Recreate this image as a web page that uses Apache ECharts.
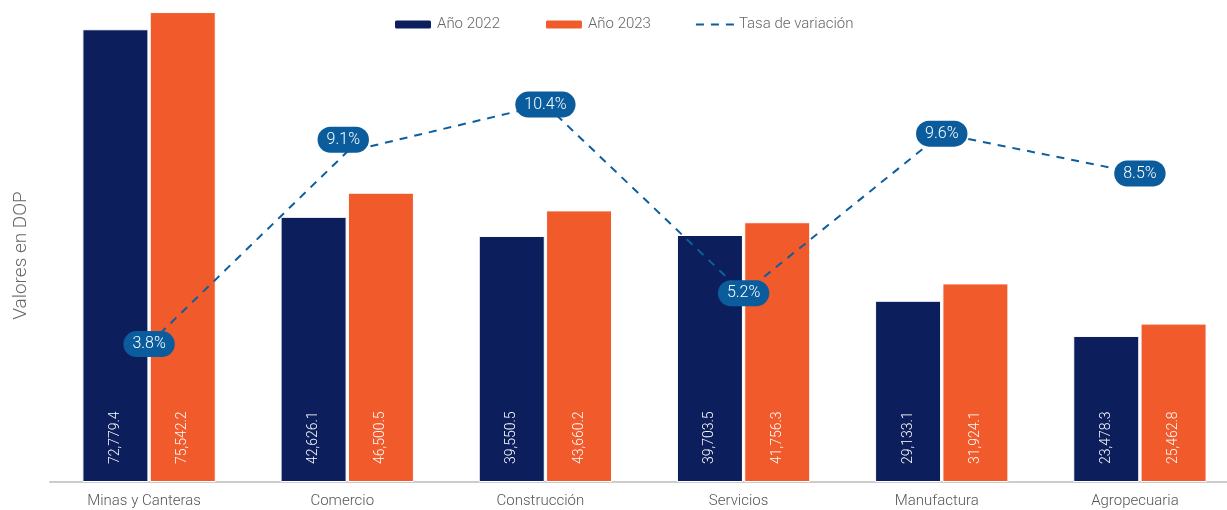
<!DOCTYPE html>
<html lang="es">
<head>
	<meta charset="UTF-8">
	<title>Valores por sector</title>
	<script src="https://cdn.jsdelivr.net/npm/echarts@6/dist/echarts.min.js"></script>
	<style>
		html, body { margin: 0; padding: 0; background: #fff; }
	</style>
</head>
<body>

	<div id="chart" style="width: 1227px;height: 510px;"></div>

<script type="text/javascript">
	var sectores = ['Minas y Canteras', 'Comercio', 'Construcción', 'Servicios', 'Manufactura', 'Agropecuaria'];
	var valores2022 = [72779.4, 42626.1, 39550.5, 39703.5, 29133.1, 23478.3];
	var valores2023 = [75542.2, 46500.5, 43660.2, 41756.3, 31924.1, 25462.8];
	var tasaVariacion = [3.8, 9.1, 10.4, 5.2, 9.6, 8.5];

	var fuente = 'Roboto';
	var chart = echarts.init(document.getElementById('chart'));

	function miles(v) {
		return v.toLocaleString('en-US', {minimumFractionDigits: 1, maximumFractionDigits: 1});
	}

	var etiquetaBarra = {
		show: true,
		position: 'insideBottom',
		rotate: 90,
		align: 'left',
		verticalAlign: 'middle',
		distance: 18,
		color: '#fff',
		fontFamily: fuente,
		fontWeight: 300,
		fontSize: 14,
		formatter: function (p) { return miles(p.value); }
	};

	// la etiqueta de Comercio va un poco por encima del punto
	var datosTasa = tasaVariacion.map(function (v, i) {
		if (i === 1) return { value: v, label: { offset: [-4, -12] } };
		return v;
	});

	var option = {
		animation: false,
		textStyle: { fontFamily: fuente },
		legend: {
			top: 12,
			left: 388,
			itemWidth: 38,
			itemHeight: 10,
			itemGap: 44,
			textStyle: { color: '#666', fontSize: 15, fontWeight: 300, fontFamily: fuente },
			data: [
				'Año 2022',
				'Año 2023',
				{ name: 'Tasa de variación', itemStyle: { opacity: 0 } }
			]
		},
		grid: {
			left: 50,
			right: -12,
			top: 3,
			bottom: 28,
			outerBoundsMode: 'none'
		},
		xAxis: {
			type: 'category',
			data: sectores,
			axisLine: { lineStyle: { color: '#cccccc', width: 2 } },
			axisTick: { show: false },
			axisLabel: {
				color: '#555',
				fontSize: 15,
				fontWeight: 300,
				fontFamily: fuente,
				margin: 12,
				padding: [0, 10, 0, 0]
			}
		},
		yAxis: [
			{
				type: 'value',
				min: 0,
				max: 77000,
				name: 'Valores en DOP',
				nameLocation: 'middle',
				nameGap: 19,
				nameTextStyle: { color: '#666', fontSize: 19, fontWeight: 300, fontFamily: fuente, padding: [0, 0, 0, -26] },
				axisLine: { show: false },
				axisTick: { show: false },
				axisLabel: { show: false },
				splitLine: { show: false }
			},
			{
				type: 'value',
				min: 0,
				max: 13.2,
				axisLine: { show: false },
				axisTick: { show: false },
				axisLabel: { show: false },
				splitLine: { show: false }
			}
		],
		series: [
			{
				name: 'Año 2022',
				type: 'bar',
				data: valores2022,
				barWidth: 66,
				barGap: '2%',
				itemStyle: { color: '#0c1f5c', borderColor: '#fff', borderWidth: 1 },
				label: etiquetaBarra
			},
			{
				name: 'Año 2023',
				type: 'bar',
				data: valores2023,
				barWidth: 66,
				barGap: '2%',
				itemStyle: { color: '#f15a2b', borderColor: '#fff', borderWidth: 1 },
				label: etiquetaBarra
			},
			{
				name: 'Tasa de variación',
				type: 'line',
				yAxisIndex: 1,
				data: datosTasa,
				symbol: 'circle',
				symbolSize: 1,
				showSymbol: true,
				z: 5,
				lineStyle: { color: '#0d5e9e', width: 2, type: [8, 7] },
				itemStyle: { color: '#0d5e9e' },
				label: {
					show: true,
					position: 'inside',
					color: '#fff',
					fontSize: 16,
					fontWeight: 300,
					fontFamily: fuente,
					backgroundColor: '#0a5c9c',
					borderRadius: 13,
					padding: [5, 9, 5, 9],
					formatter: '{c}%'
				}
			}
		]
	};
	chart.setOption(option);
</script>
</body>
</html>
